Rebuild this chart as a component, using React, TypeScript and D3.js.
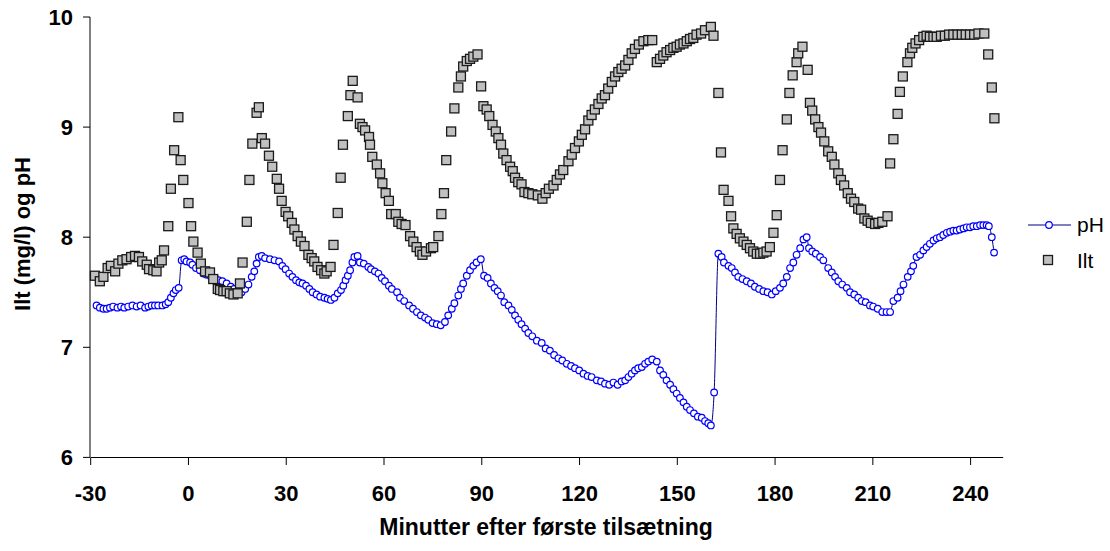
import React from "react";
import * as d3 from "d3";

// ---- Data ----
const X_TICKS = [-30, 0, 30, 60, 90, 120, 150, 180, 210, 240];
const Y_TICKS = [6, 7, 8, 9, 10];

const phTimes = [
  -28.2, -27.2, -26.1, -25.1, -24.1, -23.1, -21.8, -20.7, -19.7, -18.5, -17.2, -15.9, -14.7, -13.3, -12.3, -11.3, -10.3, -9.3, -8.0, -7.0,
  -6.2, -5.4, -4.6, -3.9, -3.0, -2.1, -1.3, -0.6, 0.5, 1.2, 2.3, 3.5, 4.6, 5.6, 6.9, 8.1, 9.2, 10.4, 11.7, 13.0,
  14.0, 15.1, 16.3, 17.4, 18.4, 19.4, 20.2, 20.9, 21.6, 22.5,
  23.5, 25.0, 26.4, 27.8, 28.8, 29.8, 30.9, 31.9, 33.0, 34.0, 35.0, 36.1, 37.1, 38.1, 39.3, 40.4, 41.7, 42.7, 43.7, 44.8,
  45.8, 46.8, 47.5, 48.2, 48.9, 49.6, 50.3, 50.9, 51.9, 52.6, 53.8, 55.2, 56.0, 57.2, 58.3, 59.3, 60.3, 61.5, 62.4, 64.0,
  64.9, 66.2, 67.7, 68.9, 70.1, 71.3, 72.6, 73.6, 74.9, 76.2, 77.4, 78.7,
  79.7, 80.8, 81.6, 82.8, 83.6, 84.3, 85.4, 86.4, 87.4, 88.4, 89.7, 90.7, 91.8, 92.8, 93.9, 94.9, 95.9, 96.9, 98.2, 99.2,
  100.2, 101.2, 102.2, 103.3, 104.3, 105.5, 106.9, 108.4, 109.6, 110.9, 112.2, 113.5, 114.7, 116.1, 117.4, 118.6, 119.9, 121.2, 122.5, 123.7,
  125.3, 126.6, 127.8, 129.1, 130.4, 131.7, 132.9,
  134.0, 135.0, 136.0, 137.0, 138.0, 139.1, 140.1, 141.1, 142.3, 143.7, 144.7, 145.7, 146.7, 147.8, 148.8, 149.8, 150.8, 151.9, 152.9, 153.9,
  155.1, 156.3, 157.5, 158.5, 159.5, 160.3, 161.3, 162.6, 163.6, 164.3, 165.7, 166.7, 167.7, 168.7, 170.0, 171.3, 172.6, 173.8, 175.1, 176.4,
  177.7, 179.0, 180.2, 181.5, 182.5, 183.6, 184.6, 185.6, 186.6, 187.7, 188.7,
  189.7, 190.4, 191.4, 192.5, 193.8, 194.8, 196.3, 197.4, 198.4, 199.4, 200.6, 202.0, 203.0, 204.3, 205.5, 206.6, 207.8, 209.1, 210.1, 211.5,
  212.9, 214.2, 215.3, 216.3, 217.6, 218.5, 219.4, 220.7, 221.7, 222.4, 223.4, 224.5, 225.5, 226.5, 227.5, 228.6, 229.6, 230.6, 231.6, 232.7,
  233.7, 234.7, 235.7, 236.7, 237.8, 238.8, 239.8, 240.8, 241.9, 242.9, 243.9, 244.9, 245.6, 246.5, 247.2,
];
const phValues = [
  7.38, 7.36, 7.35, 7.35, 7.36, 7.37, 7.36, 7.37, 7.36, 7.37, 7.38, 7.37, 7.38, 7.36, 7.37, 7.38, 7.38, 7.38, 7.38, 7.39,
  7.41, 7.45, 7.49, 7.52, 7.54, 7.79, 7.80, 7.78, 7.77, 7.75, 7.72, 7.70, 7.67, 7.66, 7.64, 7.63, 7.61, 7.60, 7.58, 7.55,
  7.53, 7.51, 7.50, 7.53, 7.57, 7.64, 7.69, 7.76, 7.82, 7.83,
  7.81, 7.80, 7.79, 7.78, 7.74, 7.71, 7.67, 7.64, 7.61, 7.59, 7.58, 7.56, 7.53, 7.50, 7.48, 7.46, 7.45, 7.44, 7.43, 7.45,
  7.49, 7.52, 7.56, 7.61, 7.65, 7.70, 7.77, 7.82, 7.83, 7.77, 7.76, 7.73, 7.71, 7.69, 7.67, 7.63, 7.60, 7.56, 7.53, 7.50,
  7.45, 7.42, 7.38, 7.35, 7.32, 7.29, 7.27, 7.25, 7.22, 7.21, 7.20, 7.23,
  7.29, 7.35, 7.40, 7.47, 7.53, 7.58, 7.65, 7.70, 7.74, 7.77, 7.80, 7.65, 7.63, 7.58, 7.54, 7.51, 7.47, 7.41, 7.38, 7.34,
  7.29, 7.25, 7.21, 7.17, 7.13, 7.10, 7.06, 7.04, 6.99, 6.97, 6.93, 6.90, 6.88, 6.85, 6.83, 6.81, 6.79, 6.76, 6.74, 6.73,
  6.70, 6.69, 6.67, 6.66, 6.68, 6.66, 6.69,
  6.70, 6.73, 6.76, 6.79, 6.81, 6.82, 6.85, 6.87, 6.89, 6.87, 6.79, 6.75, 6.70, 6.66, 6.62, 6.58, 6.54, 6.50, 6.46, 6.43,
  6.40, 6.37, 6.36, 6.33, 6.31, 6.29, 6.59, 7.85, 7.82, 7.77, 7.74, 7.72, 7.68, 7.64, 7.62, 7.60, 7.58, 7.55, 7.53, 7.51,
  7.50, 7.48, 7.51, 7.54, 7.58, 7.64, 7.72, 7.77, 7.84, 7.90, 7.98,
  8.00, 7.90, 7.87, 7.85, 7.82, 7.79, 7.72, 7.68, 7.64, 7.60, 7.57, 7.54, 7.50, 7.48, 7.45, 7.42, 7.41, 7.38, 7.37, 7.35,
  7.32, 7.32, 7.32, 7.42, 7.45, 7.51, 7.57, 7.64, 7.69, 7.74, 7.82, 7.84, 7.88, 7.91, 7.94, 7.97, 7.99, 8.00, 8.02, 8.04,
  8.05, 8.06, 8.06, 8.07, 8.08, 8.09, 8.09, 8.10, 8.10, 8.11, 8.11, 8.11, 8.10, 8.00, 7.86,
];

const iltTimes = [
  -28.7, -27.2, -26.1, -24.8, -23.8, -22.5, -21.5, -20.3, -19.0, -17.6, -16.4, -15.2, -14.2, -12.8, -12.1, -10.8, -9.8, -9.0, -8.2, -7.5,
  -6.2, -5.4, -4.4, -3.1, -2.4, -1.6, 0.0, 0.8, 1.5, 2.8, 3.8, 5.1, 6.6, 7.6, 9.0, 9.7, 10.7, 11.7, 12.7, 13.8,
  15.1, 15.8, 16.6, 17.9, 18.7, 19.6, 20.9, 21.6, 22.5,
  23.5, 24.7, 25.7, 27.1, 27.8, 28.6, 29.8, 30.6, 31.7, 32.5, 33.5, 34.5, 35.6, 36.8, 37.8, 38.6, 39.6, 40.7, 41.7, 42.4,
  43.6, 44.5, 45.8, 46.7, 47.4, 48.9, 49.7, 50.4, 51.9, 52.6, 53.4, 54.2, 55.4, 55.7, 56.4, 57.8, 58.8, 59.5, 60.5, 61.5,
  62.2, 63.6, 64.4, 65.4, 66.6, 68.0, 69.0, 70.0, 71.0, 71.8, 72.9, 74.4, 75.1, 76.7,
  77.6, 78.4, 79.1, 80.6, 81.6, 82.8, 83.6, 84.3, 85.4, 86.4, 87.4, 88.7, 89.8, 90.5, 91.5, 92.3, 93.3, 94.3, 95.1, 95.9,
  96.6, 97.6, 98.7, 99.5, 100.2, 101.2, 102.2, 103.1, 104.3, 105.5, 107.2, 108.6, 109.6, 110.6, 112.0, 113.0, 114.0, 115.0, 116.6, 117.6,
  118.6, 119.8, 120.7, 121.7, 122.7, 123.7, 124.7, 125.8, 126.8, 127.8, 128.8, 129.9, 130.9, 131.9, 132.9,
  134.0, 135.0, 136.0, 137.0, 138.2, 139.6, 141.1, 142.3, 143.7, 144.7, 145.7, 146.7, 147.8, 148.8, 149.8, 150.8, 151.9, 152.9, 153.9, 154.9,
  155.9, 157.3, 158.5, 160.3, 161.1, 162.6, 163.4, 164.2, 165.7, 166.5, 167.2, 168.2, 169.2, 170.3, 171.3, 172.3, 173.3, 174.4, 175.4, 176.4,
  177.4, 178.4, 179.5, 180.5, 181.5, 182.3, 183.6, 184.4, 185.4, 186.6, 187.1, 188.4,
  190.0, 190.7, 191.4, 192.3, 193.3, 194.1, 195.1, 196.3, 197.4, 198.2, 199.4, 200.2, 201.2, 202.3, 203.3, 204.3, 205.5, 206.4, 207.4, 208.4,
  209.4, 210.7, 211.7, 212.9, 214.5, 215.3, 216.3, 217.6, 218.3, 219.2, 220.6, 221.4, 222.1, 223.1, 224.2, 225.5, 226.5, 227.5, 228.6, 229.6,
  230.9, 232.1, 233.4, 234.7, 236.0, 237.3, 238.5, 239.8, 241.1, 242.4, 244.2, 245.4, 246.5, 247.3,
];
const iltValues = [
  7.65, 7.60, 7.64, 7.72, 7.74, 7.69, 7.76, 7.79, 7.80, 7.82, 7.83, 7.82, 7.78, 7.75, 7.71, 7.70, 7.69, 7.77, 7.79, 7.88,
  8.10, 8.44, 8.79, 9.09, 8.70, 8.52, 8.31, 8.10, 7.96, 7.86, 7.76, 7.69, 7.68, 7.62, 7.53, 7.52, 7.51, 7.51, 7.49, 7.48,
  7.49, 7.58, 7.77, 8.14, 8.52, 8.85, 9.13, 9.18, 8.90,
  8.85, 8.74, 8.64, 8.53, 8.44, 8.33, 8.23, 8.19, 8.13, 8.07, 8.01, 7.96, 7.92, 7.84, 7.81, 7.78, 7.73, 7.70, 7.67, 7.69,
  7.73, 7.93, 8.22, 8.54, 8.84, 9.10, 9.29, 9.42, 9.27, 9.03, 9.00, 8.97, 8.91, 8.84, 8.73, 8.66, 8.58, 8.49, 8.40, 8.33,
  8.21, 8.21, 8.14, 8.12, 8.11, 8.01, 7.96, 7.91, 7.87, 7.84, 7.87, 7.90, 7.91, 8.01,
  8.21, 8.40, 8.70, 8.96, 9.17, 9.36, 9.46, 9.55, 9.60, 9.62, 9.64, 9.66, 9.37, 9.19, 9.16, 9.10, 9.02, 8.96, 8.90, 8.84,
  8.76, 8.70, 8.64, 8.60, 8.54, 8.50, 8.48, 8.41, 8.40, 8.39, 8.38, 8.35, 8.40, 8.44, 8.47, 8.52, 8.57, 8.61, 8.69, 8.75,
  8.81, 8.87, 8.93, 8.98, 9.06, 9.11, 9.16, 9.21, 9.26, 9.29, 9.35, 9.41, 9.46, 9.50, 9.53,
  9.56, 9.61, 9.67, 9.71, 9.75, 9.78, 9.79, 9.79, 9.59, 9.62, 9.65, 9.68, 9.70, 9.72, 9.73, 9.75, 9.76, 9.78, 9.80, 9.81,
  9.84, 9.85, 9.88, 9.91, 9.83, 9.31, 8.77, 8.43, 8.33, 8.19, 8.08, 8.03, 7.99, 7.96, 7.93, 7.90, 7.87, 7.85, 7.85, 7.86,
  7.87, 7.91, 8.04, 8.20, 8.52, 8.79, 9.07, 9.31, 9.47, 9.59, 9.67, 9.73,
  9.52, 9.22, 9.15, 9.07, 9.00, 8.95, 8.87, 8.78, 8.73, 8.66, 8.58, 8.52, 8.47, 8.40, 8.35, 8.32, 8.26, 8.25, 8.17, 8.15,
  8.13, 8.12, 8.13, 8.14, 8.19, 8.67, 8.89, 9.12, 9.32, 9.46, 9.59, 9.67, 9.72, 9.76, 9.79, 9.82, 9.83, 9.82, 9.82, 9.82,
  9.83, 9.83, 9.84, 9.84, 9.84, 9.84, 9.84, 9.84, 9.84, 9.85, 9.85, 9.66, 9.36, 9.08,
];

const SERIES_NAMES = ["pH", "Ilt"];
const X_TITLE = "Minutter efter første tilsætning";
const Y_TITLE = "Ilt (mg/l) og pH";

// ---- Chart ----
const W = 1110;
const H = 551;
const FONT = "'Liberation Sans', Arial, Helvetica, sans-serif";

export default function App() {
  const x = d3.scaleLinear().domain([-30, 250]).range([90.7, 1003.2]);
  const y = d3.scaleLinear().domain([6, 10]).range([457.4, 17]);

  const phPts = phTimes.map((t, i) => [t, phValues[i]] as [number, number]);
  const iltPts = iltTimes.map((t, i) => [t, iltValues[i]] as [number, number]);

  const line = d3
    .line<[number, number]>()
    .x((d) => x(d[0]))
    .y((d) => y(d[1]))
    .curve(d3.curveMonotoneX);

  const x0 = x(-30);
  const y0 = y(6);
  const sq = 9;

  return (
    <svg
      width={W}
      height={H}
      style={{ position: "absolute", left: 0, top: 0, background: "#fff" }}
      fontFamily={FONT}
    >
      <rect x={0} y={0} width={W} height={H} fill="#fff" />

      {/* y axis */}
      <line x1={90} x2={90} y1={y(10)} y2={y0} stroke="#000" strokeWidth={1} />
      {Y_TICKS.map((v) => (
        <g key={"yt" + v}>
          <line x1={83} x2={90} y1={y(v)} y2={y(v)} stroke="#000" strokeWidth={1} />
          <text
            x={73}
            y={y(v) + 8}
            textAnchor="end"
            fontSize={22}
            fontWeight="bold"
            fill="#000"
          >
            {v}
          </text>
        </g>
      ))}

      {/* x axis */}
      <line x1={x0} x2={x(250)} y1={457.5} y2={457.5} stroke="#000" strokeWidth={1} />
      {X_TICKS.map((v) => (
        <g key={"xt" + v}>
          <line x1={x(v)} x2={x(v)} y1={457.5} y2={465} stroke="#000" strokeWidth={1} />
          <text
            x={x(v)}
            y={501}
            textAnchor="middle"
            fontSize={22}
            fontWeight="bold"
            fill="#000"
          >
            {v}
          </text>
        </g>
      ))}

      {/* axis titles */}
      <text x={546} y={535} textAnchor="middle" fontSize={23} fontWeight="bold" fill="#000">
        {X_TITLE}
      </text>
      <text
        transform={`translate(30,234) rotate(-90)`}
        textAnchor="middle"
        fontSize={22}
        fontWeight="bold"
        fill="#000"
      >
        {Y_TITLE}
      </text>

      {/* pH series */}
      <path d={line(phPts) || ""} fill="none" stroke="#000080" strokeWidth={1} />
      {phPts.map((d, i) => (
        <circle
          key={"p" + i}
          cx={x(d[0])}
          cy={y(d[1])}
          r={3.3}
          fill="#fff"
          stroke="#0000ff"
          strokeWidth={1.2}
        />
      ))}

      {/* Ilt series */}
      {iltPts.map((d, i) => (
        <rect
          key={"o" + i}
          x={x(d[0]) - sq / 2}
          y={y(d[1]) - sq / 2}
          width={sq}
          height={sq}
          fill="#c0c0c0"
          stroke="#1a1a1a"
          strokeWidth={1.3}
        />
      ))}

      {/* legend */}
      <line x1={1028} x2={1071} y1={225} y2={225} stroke="#000080" strokeWidth={1} />
      <circle cx={1049} cy={225} r={3.3} fill="#fff" stroke="#0000ff" strokeWidth={1.2} />
      <text x={1077} y={232} fontSize={21} fill="#000">
        {SERIES_NAMES[0]}
      </text>
      <rect x={1048 - sq / 2} y={260 - sq / 2} width={sq} height={sq} fill="#c0c0c0" stroke="#1a1a1a" strokeWidth={1.3} />
      <text x={1077} y={268} fontSize={21} fill="#000">
        {SERIES_NAMES[1]}
      </text>
    </svg>
  );
}
